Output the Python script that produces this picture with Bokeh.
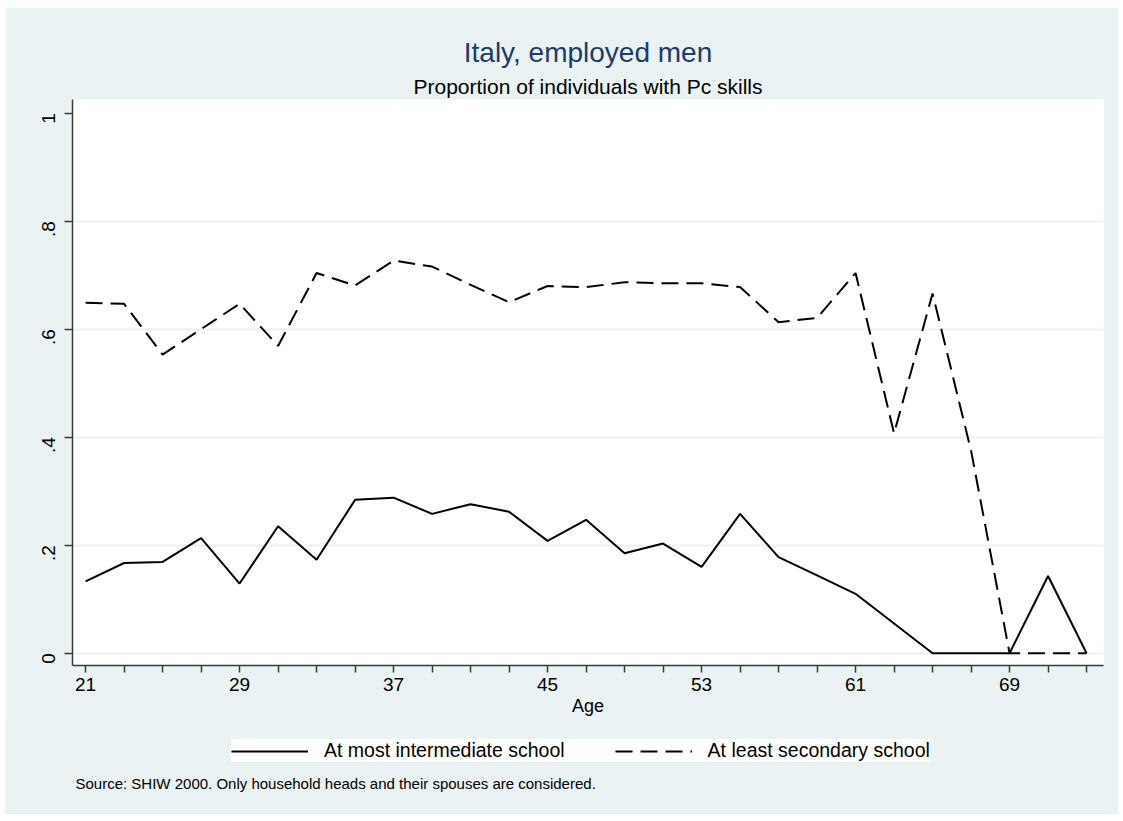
import math
from bokeh.plotting import figure
from bokeh.layouts import column
from bokeh.models import Range1d, FixedTicker, Legend, LegendItem, Title, Label
from bokeh.embed import file_html
from bokeh.resources import INLINE

# ---------------- data ----------------
age = [21, 23, 25, 27, 29, 31, 33, 35, 37, 39, 41, 43, 45, 47,
       49, 51, 53, 55, 57, 59, 61, 63, 65, 67, 69, 71, 73]
at_most_intermediate = [0.133, 0.167, 0.169, 0.213, 0.129, 0.235, 0.173, 0.284, 0.288,
                        0.258, 0.276, 0.262, 0.208, 0.247, 0.185, 0.203, 0.160, 0.258,
                        0.178, 0.144, 0.110, 0.055, 0.0, 0.0, 0.0, 0.143, 0.0]
at_least_secondary = [0.649, 0.647, 0.553, 0.600, 0.647, 0.569, 0.704, 0.681, 0.727,
                      0.716, 0.682, 0.650, 0.680, 0.678, 0.687, 0.685, 0.685, 0.678,
                      0.613, 0.621, 0.704, 0.407, 0.666, 0.375, 0.0, 0.0, 0.0]
x_labeled_ticks = [21, 29, 37, 45, 53, 61, 69]
y_ticks = [0, 0.2, 0.4, 0.6, 0.8, 1]
y_tick_labels = ["0", ".2", ".4", ".6", ".8", "1"]
series_names = ["At most intermediate school", "At least secondary school"]
title_text = "Italy, employed men"
subtitle_text = "Proportion of individuals with Pc skills"
source_text = "Source: SHIW 2000. Only household heads and their spouses are considered."

# ---------------- style ----------------
FONT = "Liberation Sans"
BG = "#EAF2F3"
AXIS = "#3a3a3a"
DASH = "17 8"

p = figure(width=1113, height=715, output_backend="svg", toolbar_location=None,
           title=None,
           x_range=Range1d(20.32, 73.88), y_range=Range1d(-0.0228, 1.0254),
           min_border_left=67, min_border_right=15, min_border_top=92,
           min_border_bottom=57,
           background_fill_color="white", border_fill_color=BG,
           outline_line_color=None)

r1 = p.line(age, at_most_intermediate, line_color="black", line_width=2)
r2 = p.line(age, at_least_secondary, line_color="black", line_width=2, line_dash=DASH)

# x axis
p.xaxis.ticker = FixedTicker(ticks=age)
p.xaxis.major_label_overrides = {a: (str(a) if a in x_labeled_ticks else "") for a in age}
p.xaxis.minor_tick_line_color = None
p.xaxis.major_tick_out = 7
p.xaxis.major_tick_in = 0
p.xaxis.major_label_standoff = 5
p.xaxis.axis_label = "Age"
p.xaxis.axis_label_standoff = 2
p.xaxis.axis_label_text_font = FONT
p.xaxis.axis_label_text_font_size = "18px"
p.xaxis.axis_label_text_font_style = "normal"
p.xaxis.axis_label_text_color = "black"

# y axis
p.yaxis.ticker = FixedTicker(ticks=y_ticks)
p.yaxis.major_label_overrides = {t: l for t, l in zip(y_ticks, y_tick_labels)}
p.yaxis.minor_tick_line_color = None
p.yaxis.major_tick_out = 8
p.yaxis.major_tick_in = 0
p.yaxis.major_label_orientation = math.pi / 2
p.yaxis.major_label_standoff = 16

for ax in (p.xaxis, p.yaxis):
    ax.axis_line_color = AXIS
    ax.axis_line_width = 1.5
    ax.major_tick_line_color = AXIS
    ax.major_tick_line_width = 1.5
    ax.major_label_text_font = FONT
    ax.major_label_text_font_size = "19px"
    ax.major_label_text_color = "black"

# grid
p.xgrid.visible = False
p.ygrid.ticker = FixedTicker(ticks=y_ticks[:-1])
p.ygrid.grid_line_color = BG
p.ygrid.grid_line_width = 2

# titles (subtitle added first so it sits closest to the frame)
sub = Title(text=subtitle_text, align="center", text_font=FONT, text_font_size="21px",
            text_font_style="normal", text_color="black", standoff=3)
p.add_layout(sub, "above")
ttl = Title(text=title_text, align="center", text_font=FONT, text_font_size="28px",
            text_font_style="normal", text_color="#1E3A6A", standoff=7)
p.add_layout(ttl, "above")

# ---------------- lower strip: legend + note ----------------
# The strip's ranges keep the two series lines outside its frame; they only
# serve as the legend's sample glyphs.
p2 = figure(width=1113, height=92, output_backend="svg", toolbar_location=None,
            title=None, x_axis_type=None, y_axis_type=None,
            x_range=Range1d(0, 1), y_range=Range1d(5, 6),
            min_border_left=67, min_border_right=15, min_border_top=0,
            min_border_bottom=0,
            background_fill_color=None, border_fill_color=None,
            outline_line_color=None)
p2.styles = {"background-color": BG}
p2.xgrid.visible = False
p2.ygrid.visible = False
k1 = p2.line(age, at_most_intermediate, line_color="black", line_width=2)
k2 = p2.line(age, at_least_secondary, line_color="black", line_width=2, line_dash=DASH)

# location = (left, bottom) of the legend box, in px from the strip frame's bottom-left
legend = Legend(items=[LegendItem(label=series_names[0], renderers=[k1]),
                       LegendItem(label=series_names[1], renderers=[k2])],
                orientation="horizontal", location=(159, 52),
                glyph_width=77, glyph_height=20, label_standoff=16,
                spacing=50, padding=8, margin=0,
                background_fill_color="white", background_fill_alpha=1.0,
                border_line_color=None,
                label_text_font=FONT, label_text_font_size="19.5px",
                label_text_color="black")
p2.add_layout(legend, "center")

src = Label(x=3, y=31, x_units="screen", y_units="screen", text=source_text,
            text_font=FONT, text_font_size="15px", text_color="black",
            text_baseline="middle", text_align="left")
p2.add_layout(src)

col = column(p, p2, spacing=0)
col.margin = (7, 5, 7, 5)

open("out.html", "w").write(file_html(col, INLINE))
